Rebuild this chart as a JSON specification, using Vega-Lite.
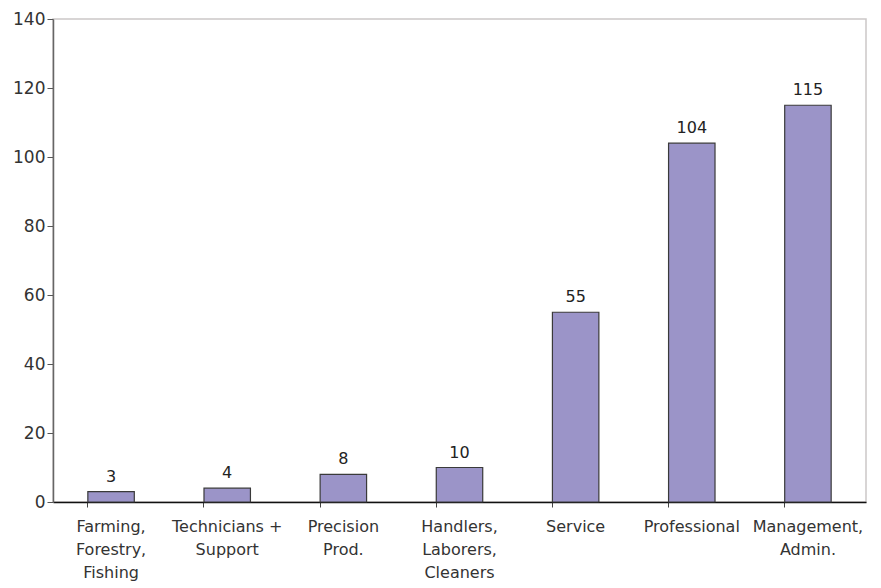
{
  "$schema": "https://vega.github.io/schema/vega-lite/v6.json",
  "width": 813,
  "height": 483,
  "autosize": "none",
  "padding": {"left": 53, "top": 19, "right": 15, "bottom": 86},
  "config": {
    "view": {"stroke": "#cbc7c7", "strokeWidth": 1.5},
    "font": "DejaVu Sans"
  },
  "data": {
    "values": [
      {"occupation": "Farming,|Forestry,|Fishing", "count": 3},
      {"occupation": "Technicians +|Support", "count": 4},
      {"occupation": "Precision|Prod.", "count": 8},
      {"occupation": "Handlers,|Laborers,|Cleaners", "count": 10},
      {"occupation": "Service", "count": 55},
      {"occupation": "Professional", "count": 104},
      {"occupation": "Management,|Admin.", "count": 115}
    ]
  },
  "encoding": {
    "x": {
      "field": "occupation",
      "type": "nominal",
      "sort": null,
      "scale": {"paddingInner": 0.6, "paddingOuter": 0.3},
      "axis": {
        "title": null,
        "labelAngle": 0,
        "labelExpr": "split(datum.label, '|')",
        "labelFont": "DejaVu Sans",
        "labelFontSize": 16,
        "labelLineHeight": 23,
        "labelColor": "#333333",
        "labelPadding": 11,
        "bandPosition": 0,
        "tickSize": 5,
        "tickColor": "#444444",
        "domainColor": "#111111",
        "domainWidth": 1.5,
        "labelBound": false,
        "labelOverlap": false
      }
    },
    "y": {
      "field": "count",
      "type": "quantitative",
      "scale": {"domain": [0, 140], "nice": false},
      "axis": {
        "title": null,
        "grid": false,
        "values": [0, 20, 40, 60, 80, 100, 120, 140],
        "labelFont": "DejaVu Sans",
        "labelFontSize": 17,
        "labelColor": "#333333",
        "labelPadding": 2,
        "tickSize": 6,
        "tickColor": "#555555",
        "domainColor": "#666666",
        "domainWidth": 1.5
      }
    }
  },
  "layer": [
    {
      "mark": {"type": "bar", "fill": "#9b94c8", "stroke": "#3a3a3a", "strokeWidth": 1.2},
      "encoding": {}
    },
    {
      "mark": {"type": "text", "baseline": "bottom", "dy": -7, "fontSize": 16, "color": "#222222", "font": "DejaVu Sans"},
      "encoding": {"text": {"field": "count", "type": "quantitative"}}
    }
  ]
}
